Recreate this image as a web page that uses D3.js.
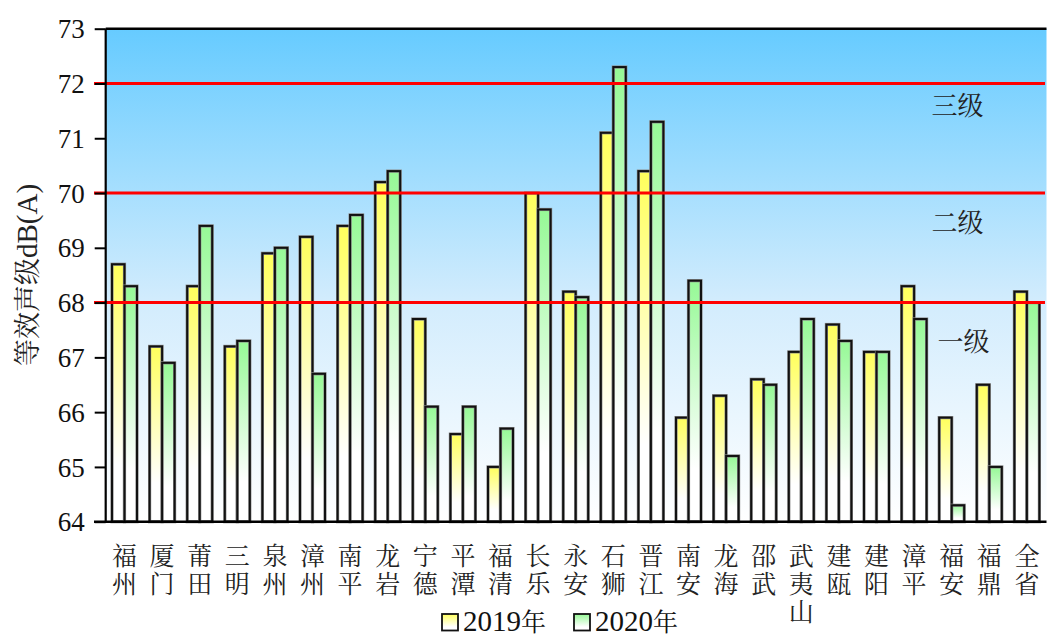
<!DOCTYPE html>
<html>
<head>
<meta charset="utf-8">
<script src="https://cdn.jsdelivr.net/npm/d3@7"></script>
<style>
  html, body { margin: 0; padding: 0; background: #fff; }
  svg { display: block; }
  .vlabel { writing-mode: vertical-rl; text-orientation: upright; }
</style>
</head>
<body>
<svg id="chart" width="1049" height="637"></svg>
<script>
// Cities (the last one is the provincial total)
const categories = ["福州","厦门","莆田","三明","泉州","漳州","南平","龙岩","宁德","平潭","福清","长乐","永安","石狮","晋江","南安","龙海","邵武","武夷山","建瓯","建阳","漳平","福安","福鼎","全省"];
// Equivalent sound level, dB(A)
const values2019 = [68.7,67.2,68.3,67.2,68.9,69.2,69.4,70.2,67.7,65.6,65.0,70.0,68.2,71.1,70.4,65.9,66.3,66.6,67.1,67.6,67.1,68.3,65.9,66.5,68.2];
const values2020 = [68.3,66.9,69.4,67.3,69.0,66.7,69.6,70.4,66.1,66.1,65.7,69.7,68.1,72.3,71.3,68.4,65.2,66.5,67.7,67.3,67.1,67.7,64.3,65.0,68.0];
const seriesNames = ["2019年","2020年"];
const yTicks = [64,65,66,67,68,69,70,71,72,73];
// Noise level limits
const limitValues = [68,70,72];
const limitLabels = ["一级","二级","三级"];
const limitLabelValues = [67.33,69.5,71.63];

const svg = d3.select("#chart");
const plotLeft = 105.7, plotRight = 1045.7, plotTop = 28.7, plotBottom = 521.7;
const serif = "'Liberation Serif','Times New Roman','DejaVu Serif',serif";
const cjk = "'Noto Serif CJK SC','Noto Sans CJK SC',sans-serif";

const x = d3.scaleBand().domain(categories).range([plotLeft, plotRight]).paddingInner(0.335).paddingOuter(0.1675);
const xs = d3.scaleBand().domain(seriesNames).range([0, x.bandwidth()]).padding(0);
const y = d3.scaleLinear().domain([64, 73]).range([plotBottom, plotTop]);

const defs = svg.append("defs");
const bg = defs.append("linearGradient").attr("id","bg").attr("x1",0).attr("y1",0).attr("x2",0).attr("y2",1);
bg.append("stop").attr("offset","0%").attr("stop-color","#66cbff");
bg.append("stop").attr("offset","55%").attr("stop-color","#d2ecfd");
bg.append("stop").attr("offset","100%").attr("stop-color","#ffffff");

const fills = [["g2019","#ffff5c"],["g2020","#96f996"]];
fills.forEach(([id, c]) => {
  const g = defs.append("linearGradient").attr("id", id).attr("x1",0).attr("y1",0).attr("x2",0).attr("y2",1);
  g.append("stop").attr("offset","0%").attr("stop-color", c);
  g.append("stop").attr("offset","78%").attr("stop-color", "#ffffff");
  g.append("stop").attr("offset","100%").attr("stop-color", "#ffffff");
});

// Plot background
svg.append("rect").attr("x", plotLeft).attr("y", plotTop).attr("width", 1046.5 - plotLeft).attr("height", plotBottom - plotTop).attr("fill","url(#bg)");

// Bars: a soft grey outline under a dark edge
const groups = svg.append("g").selectAll("g").data(categories).join("g")
  .attr("transform", d => `translate(${x(d)},0)`);
groups.each(function(d, i) {
  const g = d3.select(this);
  const vals = [values2019[i], values2020[i]];
  vals.forEach((v, k) => {
    g.append("rect")
      .attr("x", xs(seriesNames[k]))
      .attr("y", y(v))
      .attr("width", xs.bandwidth())
      .attr("height", y(64) - y(v))
      .attr("fill", `url(#${fills[k][0]})`)
      .attr("stroke", "#8a8a8a").attr("stroke-width", 3.2);
    g.append("rect")
      .attr("x", xs(seriesNames[k]))
      .attr("y", y(v))
      .attr("width", xs.bandwidth())
      .attr("height", y(64) - y(v))
      .attr("fill", "none")
      .attr("stroke", "#111").attr("stroke-width", 2);
  });
});

// Limit lines
svg.append("g").selectAll("line").data(limitValues).join("line")
  .attr("x1", 94).attr("x2", 1045)
  .attr("y1", d => y(d)).attr("y2", d => y(d))
  .attr("stroke", "#ff0000").attr("stroke-width", 3);

svg.append("g").selectAll("text").data(limitLabels).join("text")
  .attr("x", (d, i) => i === 0 ? 963.5 : 957.5)
  .attr("y", (d, i) => y(limitLabelValues[i]))
  .attr("text-anchor", "middle").attr("dominant-baseline", "central")
  .attr("font-family", cjk).attr("font-size", 26).attr("fill", "#222")
  .text(d => d);

// Frame: top border
svg.append("line").attr("x1", plotLeft).attr("x2", 1046.5).attr("y1", plotTop).attr("y2", plotTop)
  .attr("stroke", "#000").attr("stroke-width", 2.5);

// Y axis
const yAxis = svg.append("g").attr("transform", `translate(${plotLeft},0)`)
  .call(d3.axisLeft(y).tickValues(yTicks).tickSize(11).tickPadding(10).tickFormat(d3.format("d")));
yAxis.select(".domain").attr("stroke", "#000").attr("stroke-width", 2.2).attr("d", `M0,${plotTop}V${plotBottom}`);
yAxis.selectAll(".tick line").attr("stroke", "#000").attr("stroke-width", 2);
yAxis.selectAll(".tick text").attr("font-family", serif).attr("font-size", 27).attr("fill", "#111")
  .attr("dy", "0.34em");

// X axis baseline
svg.append("line").attr("x1", 94).attr("x2", 1046.5).attr("y1", plotBottom).attr("y2", plotBottom)
  .attr("stroke", "#000").attr("stroke-width", 2.5);

// Category labels, set vertically (one character per row)
svg.append("g").selectAll("text").data(categories).join("text")
  .attr("class", "vlabel")
  .attr("x", d => x(d) + x.bandwidth() / 2)
  .attr("y", 543)
  .attr("font-family", cjk).attr("font-size", 25).attr("fill", "#222")
  .attr("letter-spacing", 3)
  .text(d => d);

// Y axis title
svg.append("text")
  .attr("transform", "translate(37,275) rotate(-90)")
  .attr("text-anchor", "middle")
  .attr("font-family", cjk).attr("font-size", 27).attr("fill", "#222")
  .text("等效声级")
  .append("tspan").attr("font-family", serif).attr("font-size", 29).text("dB(A)");

// Legend
const legendX = [442, 574];
const legend = svg.append("g").selectAll("g").data(seriesNames).join("g")
  .attr("transform", (d, i) => `translate(${legendX[i]},614)`);
legend.append("rect").attr("width", 16).attr("height", 16.5)
  .attr("fill", (d, i) => `url(#${fills[i][0]})`)
  .attr("stroke", "#111").attr("stroke-width", 1.8);
legend.append("text").attr("x", 21).attr("y", 16.5)
  .attr("font-family", serif).attr("font-size", 29).attr("fill", "#111")
  .text(d => d.replace("年", ""))
  .append("tspan").attr("font-family", cjk).attr("font-size", 25).text("年");
</script>
</body>
</html>
